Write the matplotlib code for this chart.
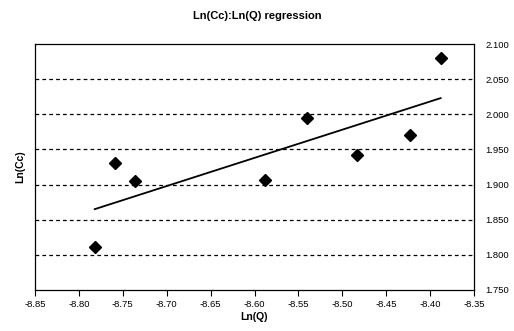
import numpy as np
import matplotlib
matplotlib.use("Agg")
import matplotlib.pyplot as plt

plt.rcParams["font.family"] = ["Liberation Sans", "DejaVu Sans"]

# data
ln_q = [-8.782, -8.759, -8.736, -8.588, -8.540, -8.483, -8.423, -8.388]
ln_cc = [1.811, 1.931, 1.905, 1.906, 1.995, 1.942, 1.971, 2.080]
trend_x = [-8.782, -8.388]
trend_y = [1.865, 2.023]
x_ticks = np.arange(-8.85, -8.349, 0.05)
y_ticks = np.arange(1.75, 2.1001, 0.05)

fig = plt.figure(figsize=(5.14, 3.31), dpi=100)
ax = fig.add_axes([35 / 514, 1 - 290 / 331, (474 - 35) / 514, (290 - 44) / 331])

for yv in y_ticks[1:-1]:
    ax.axhline(yv, color="black", lw=0.9, ls=(0, (3, 2.5)), zorder=1)

ax.plot(trend_x, trend_y, color="black", lw=1.3, zorder=2)
ax.plot(ln_q, ln_cc, "D", color="black", markersize=6, zorder=3)

ax.set_xlim(-8.85, -8.35)
ax.set_ylim(1.75, 2.10)
ax.set_xticks(x_ticks)
ax.set_xticklabels([f"{v:.2f}" for v in x_ticks])
ax.set_yticks(y_ticks)
ax.set_yticklabels([f"{v:.3f}" for v in y_ticks])
ax.yaxis.tick_right()
ax.tick_params(axis="x", labelsize=6.8, length=4, width=0.8, direction="out", pad=3)
ax.tick_params(axis="y", labelsize=6.8, length=0, pad=8)
for s in ax.spines.values():
    s.set_linewidth(0.9)

ax.set_xlabel("Ln(Q)", fontsize=7.5, fontweight="bold", labelpad=2)
fig.text(20 / 514, 1 - 167 / 331, "Ln(Cc)", rotation=90, fontsize=7.5,
         fontweight="bold", ha="center", va="center")
fig.text(257 / 514, 1 - 16 / 331, "Ln(Cc):Ln(Q) regression", fontsize=8,
         fontweight="bold", ha="center", va="center")

fig.savefig("out.png", dpi=100)
